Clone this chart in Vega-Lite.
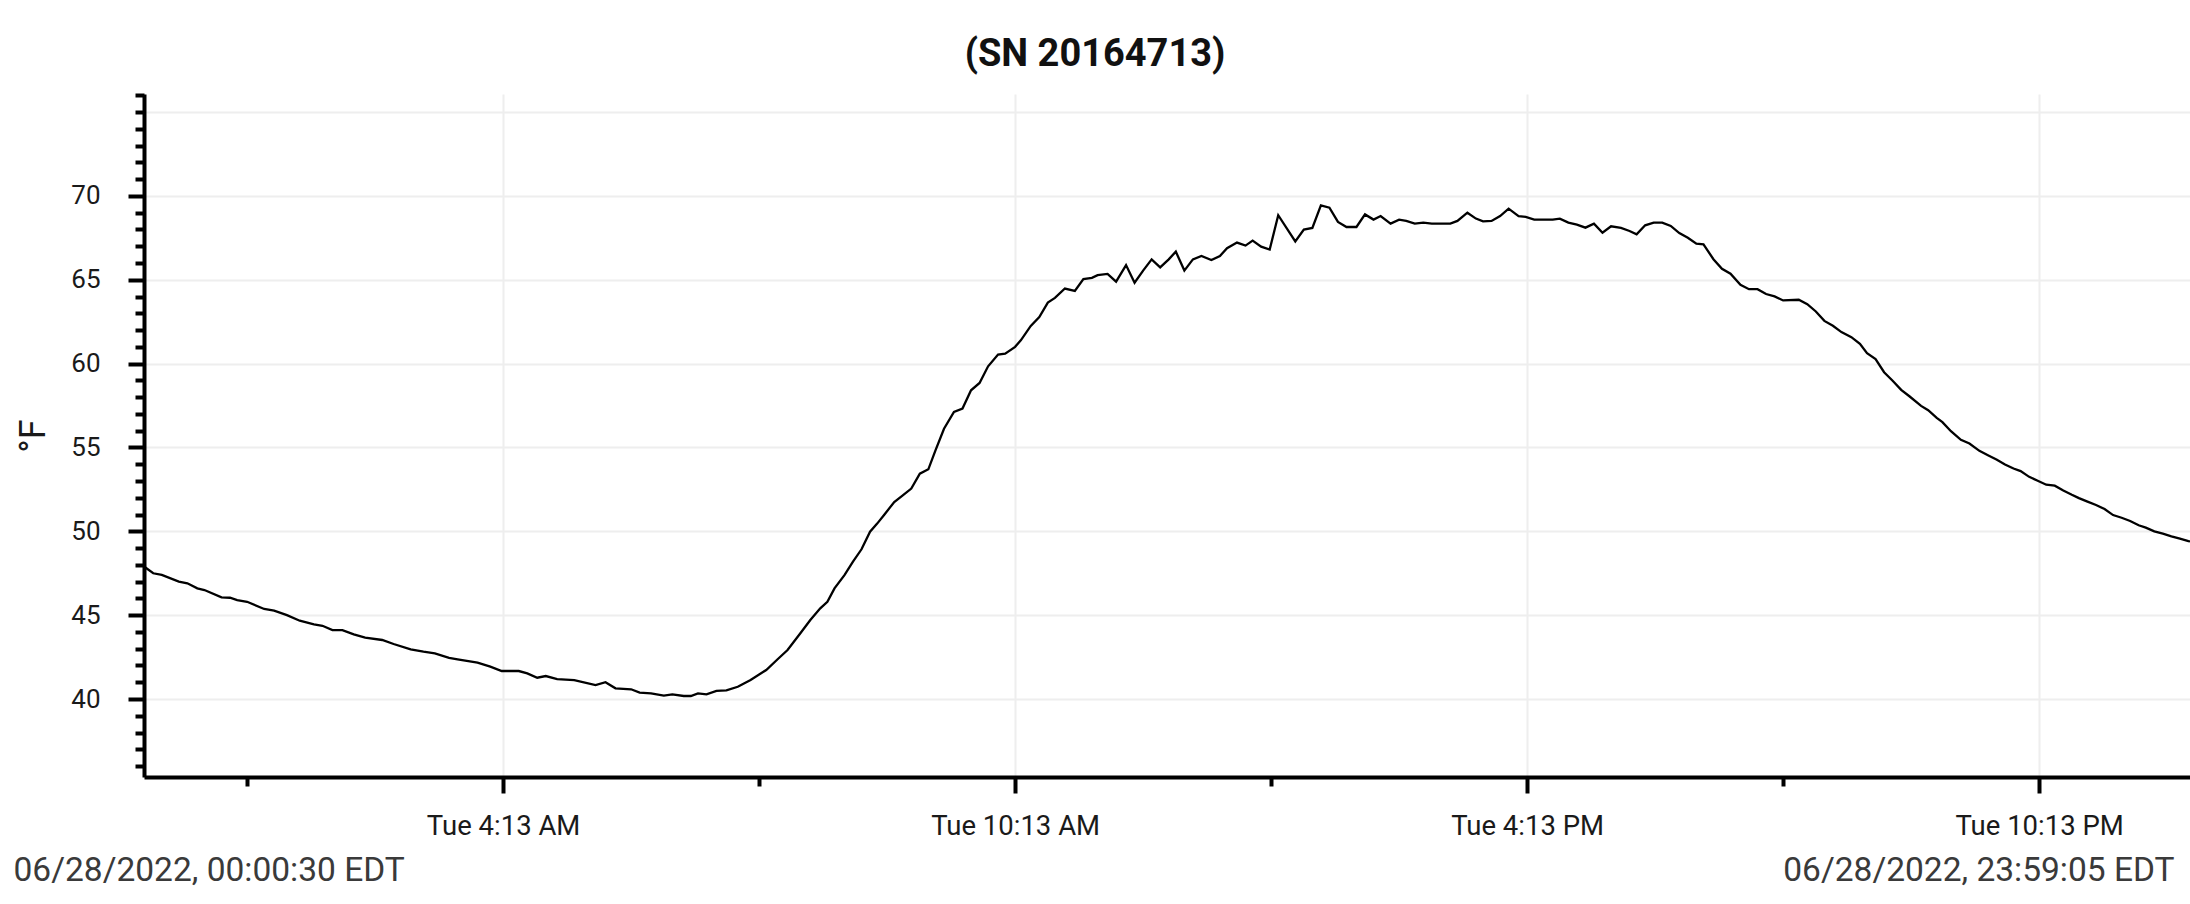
{
  "$schema": "https://vega.github.io/schema/vega-lite/v6.json",
  "width": 2046,
  "height": 683,
  "autosize": {"type": "none"},
  "padding": {"left": 144, "top": 94, "right": 0, "bottom": 127},
  "background": "white",
  "title": {
    "text": "(SN 20164713)",
    "font": "Roboto",
    "fontSize": 38,
    "fontWeight": "bold",
    "color": "#111111",
    "anchor": "middle",
    "dx": -72,
    "offset": 8
  },
  "data": {
    "values": [
      {"t": "2022-06-28T00:00:30Z", "temp": 47.9},
      {"t": "2022-06-28T00:07:00Z", "temp": 47.5},
      {"t": "2022-06-28T00:13:00Z", "temp": 47.4},
      {"t": "2022-06-28T00:25:00Z", "temp": 47.0},
      {"t": "2022-06-28T00:31:00Z", "temp": 46.9},
      {"t": "2022-06-28T00:38:00Z", "temp": 46.6},
      {"t": "2022-06-28T00:43:00Z", "temp": 46.5},
      {"t": "2022-06-28T00:55:00Z", "temp": 46.06},
      {"t": "2022-06-28T01:01:00Z", "temp": 46.04},
      {"t": "2022-06-28T01:06:00Z", "temp": 45.9},
      {"t": "2022-06-28T01:13:00Z", "temp": 45.8},
      {"t": "2022-06-28T01:25:00Z", "temp": 45.37},
      {"t": "2022-06-28T01:32:00Z", "temp": 45.27},
      {"t": "2022-06-28T01:41:00Z", "temp": 45.0},
      {"t": "2022-06-28T01:50:00Z", "temp": 44.67},
      {"t": "2022-06-28T02:00:00Z", "temp": 44.45},
      {"t": "2022-06-28T02:06:00Z", "temp": 44.37},
      {"t": "2022-06-28T02:13:00Z", "temp": 44.11},
      {"t": "2022-06-28T02:20:00Z", "temp": 44.11},
      {"t": "2022-06-28T02:28:00Z", "temp": 43.86},
      {"t": "2022-06-28T02:36:00Z", "temp": 43.66},
      {"t": "2022-06-28T02:48:00Z", "temp": 43.52},
      {"t": "2022-06-28T02:56:00Z", "temp": 43.28},
      {"t": "2022-06-28T03:08:00Z", "temp": 42.96},
      {"t": "2022-06-28T03:17:00Z", "temp": 42.82},
      {"t": "2022-06-28T03:25:00Z", "temp": 42.72},
      {"t": "2022-06-28T03:35:00Z", "temp": 42.46},
      {"t": "2022-06-28T03:41:00Z", "temp": 42.37},
      {"t": "2022-06-28T03:55:00Z", "temp": 42.17},
      {"t": "2022-06-28T04:04:00Z", "temp": 41.93},
      {"t": "2022-06-28T04:12:00Z", "temp": 41.67},
      {"t": "2022-06-28T04:24:00Z", "temp": 41.67},
      {"t": "2022-06-28T04:30:00Z", "temp": 41.53},
      {"t": "2022-06-28T04:37:00Z", "temp": 41.27},
      {"t": "2022-06-28T04:43:00Z", "temp": 41.37},
      {"t": "2022-06-28T04:51:00Z", "temp": 41.19},
      {"t": "2022-06-28T05:03:00Z", "temp": 41.13},
      {"t": "2022-06-28T05:18:00Z", "temp": 40.83},
      {"t": "2022-06-28T05:25:00Z", "temp": 41.0},
      {"t": "2022-06-28T05:32:00Z", "temp": 40.64},
      {"t": "2022-06-28T05:43:00Z", "temp": 40.58},
      {"t": "2022-06-28T05:49:00Z", "temp": 40.38},
      {"t": "2022-06-28T05:57:00Z", "temp": 40.34},
      {"t": "2022-06-28T06:06:00Z", "temp": 40.2},
      {"t": "2022-06-28T06:12:00Z", "temp": 40.28},
      {"t": "2022-06-28T06:20:00Z", "temp": 40.18},
      {"t": "2022-06-28T06:25:00Z", "temp": 40.18},
      {"t": "2022-06-28T06:30:00Z", "temp": 40.34},
      {"t": "2022-06-28T06:36:00Z", "temp": 40.28},
      {"t": "2022-06-28T06:43:00Z", "temp": 40.49},
      {"t": "2022-06-28T06:50:00Z", "temp": 40.52},
      {"t": "2022-06-28T06:58:00Z", "temp": 40.73},
      {"t": "2022-06-28T07:07:00Z", "temp": 41.13},
      {"t": "2022-06-28T07:18:00Z", "temp": 41.73},
      {"t": "2022-06-28T07:26:00Z", "temp": 42.37},
      {"t": "2022-06-28T07:33:00Z", "temp": 42.92},
      {"t": "2022-06-28T07:42:00Z", "temp": 43.92},
      {"t": "2022-06-28T07:49:00Z", "temp": 44.71},
      {"t": "2022-06-28T07:56:00Z", "temp": 45.41},
      {"t": "2022-06-28T08:01:00Z", "temp": 45.8},
      {"t": "2022-06-28T08:06:00Z", "temp": 46.6},
      {"t": "2022-06-28T08:13:00Z", "temp": 47.39},
      {"t": "2022-06-28T08:19:00Z", "temp": 48.19},
      {"t": "2022-06-28T08:25:00Z", "temp": 48.93},
      {"t": "2022-06-28T08:31:00Z", "temp": 49.98},
      {"t": "2022-06-28T08:36:00Z", "temp": 50.46},
      {"t": "2022-06-28T08:41:00Z", "temp": 50.99},
      {"t": "2022-06-28T08:48:00Z", "temp": 51.75},
      {"t": "2022-06-28T08:54:00Z", "temp": 52.15},
      {"t": "2022-06-28T09:00:00Z", "temp": 52.55},
      {"t": "2022-06-28T09:06:00Z", "temp": 53.44},
      {"t": "2022-06-28T09:12:00Z", "temp": 53.7},
      {"t": "2022-06-28T09:17:00Z", "temp": 54.83},
      {"t": "2022-06-28T09:23:00Z", "temp": 56.12},
      {"t": "2022-06-28T09:30:00Z", "temp": 57.12},
      {"t": "2022-06-28T09:36:00Z", "temp": 57.32},
      {"t": "2022-06-28T09:42:00Z", "temp": 58.41},
      {"t": "2022-06-28T09:48:00Z", "temp": 58.85},
      {"t": "2022-06-28T09:54:00Z", "temp": 59.84},
      {"t": "2022-06-28T10:01:00Z", "temp": 60.54},
      {"t": "2022-06-28T10:06:00Z", "temp": 60.6},
      {"t": "2022-06-28T10:13:00Z", "temp": 61.0},
      {"t": "2022-06-28T10:17:00Z", "temp": 61.39},
      {"t": "2022-06-28T10:24:00Z", "temp": 62.25},
      {"t": "2022-06-28T10:30:00Z", "temp": 62.78},
      {"t": "2022-06-28T10:36:00Z", "temp": 63.64},
      {"t": "2022-06-28T10:41:00Z", "temp": 63.92},
      {"t": "2022-06-28T10:48:00Z", "temp": 64.48},
      {"t": "2022-06-28T10:55:00Z", "temp": 64.34},
      {"t": "2022-06-28T11:01:00Z", "temp": 65.04},
      {"t": "2022-06-28T11:07:00Z", "temp": 65.12},
      {"t": "2022-06-28T11:11:00Z", "temp": 65.28},
      {"t": "2022-06-28T11:18:00Z", "temp": 65.35},
      {"t": "2022-06-28T11:24:00Z", "temp": 64.89},
      {"t": "2022-06-28T11:31:00Z", "temp": 65.88},
      {"t": "2022-06-28T11:37:00Z", "temp": 64.83},
      {"t": "2022-06-28T11:43:00Z", "temp": 65.55},
      {"t": "2022-06-28T11:49:00Z", "temp": 66.22},
      {"t": "2022-06-28T11:55:00Z", "temp": 65.74},
      {"t": "2022-06-28T12:01:00Z", "temp": 66.22},
      {"t": "2022-06-28T12:06:00Z", "temp": 66.68},
      {"t": "2022-06-28T12:12:00Z", "temp": 65.55},
      {"t": "2022-06-28T12:18:00Z", "temp": 66.22},
      {"t": "2022-06-28T12:24:00Z", "temp": 66.42},
      {"t": "2022-06-28T12:31:00Z", "temp": 66.18},
      {"t": "2022-06-28T12:37:00Z", "temp": 66.42},
      {"t": "2022-06-28T12:42:00Z", "temp": 66.88},
      {"t": "2022-06-28T12:49:00Z", "temp": 67.22},
      {"t": "2022-06-28T12:55:00Z", "temp": 67.04},
      {"t": "2022-06-28T13:00:00Z", "temp": 67.34},
      {"t": "2022-06-28T13:06:00Z", "temp": 66.98},
      {"t": "2022-06-28T13:12:00Z", "temp": 66.8},
      {"t": "2022-06-28T13:18:00Z", "temp": 68.85},
      {"t": "2022-06-28T13:30:00Z", "temp": 67.29},
      {"t": "2022-06-28T13:36:00Z", "temp": 67.99},
      {"t": "2022-06-28T13:42:00Z", "temp": 68.09},
      {"t": "2022-06-28T13:48:00Z", "temp": 69.44},
      {"t": "2022-06-28T13:54:00Z", "temp": 69.3},
      {"t": "2022-06-28T14:00:00Z", "temp": 68.45},
      {"t": "2022-06-28T14:06:00Z", "temp": 68.15},
      {"t": "2022-06-28T14:13:00Z", "temp": 68.15},
      {"t": "2022-06-28T14:19:00Z", "temp": 68.9},
      {"t": "2022-06-28T14:25:00Z", "temp": 68.59},
      {"t": "2022-06-28T14:30:00Z", "temp": 68.8},
      {"t": "2022-06-28T14:37:00Z", "temp": 68.35},
      {"t": "2022-06-28T14:43:00Z", "temp": 68.59},
      {"t": "2022-06-28T14:48:00Z", "temp": 68.51},
      {"t": "2022-06-28T14:54:00Z", "temp": 68.35},
      {"t": "2022-06-28T15:00:00Z", "temp": 68.41},
      {"t": "2022-06-28T15:06:00Z", "temp": 68.35},
      {"t": "2022-06-28T15:19:00Z", "temp": 68.35},
      {"t": "2022-06-28T15:24:00Z", "temp": 68.51},
      {"t": "2022-06-28T15:31:00Z", "temp": 69.0},
      {"t": "2022-06-28T15:37:00Z", "temp": 68.65},
      {"t": "2022-06-28T15:42:00Z", "temp": 68.49},
      {"t": "2022-06-28T15:48:00Z", "temp": 68.51},
      {"t": "2022-06-28T15:54:00Z", "temp": 68.8},
      {"t": "2022-06-28T16:00:00Z", "temp": 69.24},
      {"t": "2022-06-28T16:07:00Z", "temp": 68.8},
      {"t": "2022-06-28T16:12:00Z", "temp": 68.75},
      {"t": "2022-06-28T16:18:00Z", "temp": 68.59},
      {"t": "2022-06-28T16:31:00Z", "temp": 68.59},
      {"t": "2022-06-28T16:36:00Z", "temp": 68.65},
      {"t": "2022-06-28T16:42:00Z", "temp": 68.41},
      {"t": "2022-06-28T16:48:00Z", "temp": 68.29},
      {"t": "2022-06-28T16:54:00Z", "temp": 68.11},
      {"t": "2022-06-28T17:00:00Z", "temp": 68.35},
      {"t": "2022-06-28T17:06:00Z", "temp": 67.81},
      {"t": "2022-06-28T17:12:00Z", "temp": 68.19},
      {"t": "2022-06-28T17:19:00Z", "temp": 68.09},
      {"t": "2022-06-28T17:25:00Z", "temp": 67.91},
      {"t": "2022-06-28T17:30:00Z", "temp": 67.71},
      {"t": "2022-06-28T17:36:00Z", "temp": 68.25},
      {"t": "2022-06-28T17:42:00Z", "temp": 68.41},
      {"t": "2022-06-28T17:48:00Z", "temp": 68.41},
      {"t": "2022-06-28T17:54:00Z", "temp": 68.21},
      {"t": "2022-06-28T18:00:00Z", "temp": 67.79},
      {"t": "2022-06-28T18:06:00Z", "temp": 67.51},
      {"t": "2022-06-28T18:12:00Z", "temp": 67.15},
      {"t": "2022-06-28T18:17:00Z", "temp": 67.11},
      {"t": "2022-06-28T18:24:00Z", "temp": 66.23},
      {"t": "2022-06-28T18:30:00Z", "temp": 65.66},
      {"t": "2022-06-28T18:36:00Z", "temp": 65.36},
      {"t": "2022-06-28T18:43:00Z", "temp": 64.7},
      {"t": "2022-06-28T18:49:00Z", "temp": 64.44},
      {"t": "2022-06-28T18:55:00Z", "temp": 64.44},
      {"t": "2022-06-28T19:01:00Z", "temp": 64.15},
      {"t": "2022-06-28T19:07:00Z", "temp": 64.01},
      {"t": "2022-06-28T19:13:00Z", "temp": 63.77},
      {"t": "2022-06-28T19:24:00Z", "temp": 63.81},
      {"t": "2022-06-28T19:30:00Z", "temp": 63.55},
      {"t": "2022-06-28T19:36:00Z", "temp": 63.11},
      {"t": "2022-06-28T19:42:00Z", "temp": 62.55},
      {"t": "2022-06-28T19:48:00Z", "temp": 62.26},
      {"t": "2022-06-28T19:54:00Z", "temp": 61.88},
      {"t": "2022-06-28T20:01:00Z", "temp": 61.58},
      {"t": "2022-06-28T20:07:00Z", "temp": 61.18},
      {"t": "2022-06-28T20:12:00Z", "temp": 60.63},
      {"t": "2022-06-28T20:18:00Z", "temp": 60.27},
      {"t": "2022-06-28T20:24:00Z", "temp": 59.49},
      {"t": "2022-06-28T20:30:00Z", "temp": 58.98},
      {"t": "2022-06-28T20:36:00Z", "temp": 58.44},
      {"t": "2022-06-28T20:42:00Z", "temp": 58.04},
      {"t": "2022-06-28T20:50:00Z", "temp": 57.48},
      {"t": "2022-06-28T20:55:00Z", "temp": 57.22},
      {"t": "2022-06-28T21:01:00Z", "temp": 56.77},
      {"t": "2022-06-28T21:05:00Z", "temp": 56.51},
      {"t": "2022-06-28T21:11:00Z", "temp": 55.97},
      {"t": "2022-06-28T21:18:00Z", "temp": 55.46},
      {"t": "2022-06-28T21:24:00Z", "temp": 55.24},
      {"t": "2022-06-28T21:31:00Z", "temp": 54.8},
      {"t": "2022-06-28T21:37:00Z", "temp": 54.54},
      {"t": "2022-06-28T21:43:00Z", "temp": 54.29},
      {"t": "2022-06-28T21:49:00Z", "temp": 53.99},
      {"t": "2022-06-28T21:55:00Z", "temp": 53.75},
      {"t": "2022-06-28T22:00:00Z", "temp": 53.59},
      {"t": "2022-06-28T22:06:00Z", "temp": 53.25},
      {"t": "2022-06-28T22:12:00Z", "temp": 53.02},
      {"t": "2022-06-28T22:18:00Z", "temp": 52.78},
      {"t": "2022-06-28T22:24:00Z", "temp": 52.72},
      {"t": "2022-06-28T22:30:00Z", "temp": 52.44},
      {"t": "2022-06-28T22:36:00Z", "temp": 52.18},
      {"t": "2022-06-28T22:41:00Z", "temp": 51.98},
      {"t": "2022-06-28T22:47:00Z", "temp": 51.77},
      {"t": "2022-06-28T22:53:00Z", "temp": 51.57},
      {"t": "2022-06-28T22:59:00Z", "temp": 51.33},
      {"t": "2022-06-28T23:05:00Z", "temp": 50.97},
      {"t": "2022-06-28T23:11:00Z", "temp": 50.81},
      {"t": "2022-06-28T23:17:00Z", "temp": 50.62},
      {"t": "2022-06-28T23:23:00Z", "temp": 50.36},
      {"t": "2022-06-28T23:28:00Z", "temp": 50.22},
      {"t": "2022-06-28T23:34:00Z", "temp": 50.0},
      {"t": "2022-06-28T23:40:00Z", "temp": 49.86},
      {"t": "2022-06-28T23:46:00Z", "temp": 49.7},
      {"t": "2022-06-28T23:52:00Z", "temp": 49.56},
      {"t": "2022-06-28T23:58:00Z", "temp": 49.42},
      {"t": "2022-06-28T23:59:05Z", "temp": 49.4}
    ]
  },
  "mark": {"type": "line", "color": "#000000", "strokeWidth": 2.3},
  "encoding": {
    "x": {
      "field": "t",
      "type": "temporal",
      "scale": {"type": "utc", "nice": false},
      "axis": {
        "title": null,
        "values": [
          {"year": 2022, "month": 6, "date": 28, "hours": 0, "minutes": 0, "seconds": 30, "utc": true},
          {"year": 2022, "month": 6, "date": 28, "hours": 1, "minutes": 13, "utc": true},
          {"year": 2022, "month": 6, "date": 28, "hours": 4, "minutes": 13, "utc": true},
          {"year": 2022, "month": 6, "date": 28, "hours": 7, "minutes": 13, "utc": true},
          {"year": 2022, "month": 6, "date": 28, "hours": 10, "minutes": 13, "utc": true},
          {"year": 2022, "month": 6, "date": 28, "hours": 13, "minutes": 13, "utc": true},
          {"year": 2022, "month": 6, "date": 28, "hours": 16, "minutes": 13, "utc": true},
          {"year": 2022, "month": 6, "date": 28, "hours": 19, "minutes": 13, "utc": true},
          {"year": 2022, "month": 6, "date": 28, "hours": 22, "minutes": 13, "utc": true},
          {"year": 2022, "month": 6, "date": 28, "hours": 23, "minutes": 59, "seconds": 5, "utc": true}
        ],
        "labelExpr": "utchours(datum.value) == 0 || utchours(datum.value) == 23 ? utcFormat(datum.value, '%m/%d/%Y, %H:%M:%S') + ' EDT' : (utchours(datum.value) % 6 == 1 ? '' : utcFormat(datum.value, '%a %-I:%M %p'))",
        "labelOverlap": false,
        "labelFlush": false,
        "labelBound": false,
        "labelLimit": 0,
        "labelFont": "Roboto",
        "labelFontSize": {"condition": {"test": "utchours(datum.value) == 0 || utchours(datum.value) == 23", "value": 33.5}, "value": 27.5},
        "labelColor": {"condition": {"test": "utchours(datum.value) == 0 || utchours(datum.value) == 23", "value": "#3a3a3a"}, "value": "#1a1a1a"},
        "labelAlign": {"condition": [{"test": "utchours(datum.value) == 0", "value": "left"}, {"test": "utchours(datum.value) == 23", "value": "right"}], "value": "center"},
        "labelOffset": {"condition": [{"test": "utchours(datum.value) == 0", "value": -131}, {"test": "utchours(datum.value) == 23", "value": -16}], "value": 0},
        "labelPadding": {"condition": {"test": "utchours(datum.value) == 0 || utchours(datum.value) == 23", "value": 61}, "value": 19},
        "tickSize": {"condition": {"test": "utchours(datum.value) % 6 == 1", "value": 9}, "value": 16},
        "tickOpacity": {"condition": {"test": "utchours(datum.value) == 0 || utchours(datum.value) == 23", "value": 0}, "value": 1},
        "tickWidth": 4,
        "tickColor": "#000000",
        "domainColor": "#000000",
        "domainWidth": 4,
        "grid": true,
        "gridColor": "#eeeeee",
        "gridWidth": 2,
        "gridOpacity": {"condition": {"test": "utchours(datum.value) % 6 == 4", "value": 1}, "value": 0}
      }
    },
    "y": {
      "field": "temp",
      "type": "quantitative",
      "scale": {"domain": [35.35, 76.08], "nice": false, "zero": false},
      "axis": {
        "title": "°F",
        "titleFont": "Roboto",
        "titleFontSize": 36,
        "titleFontWeight": "normal",
        "titleColor": "#1a1a1a",
        "titlePadding": 18,
        "values": [36, 37, 38, 39, 40, 41, 42, 43, 44, 45, 46, 47, 48, 49, 50, 51, 52, 53, 54, 55, 56, 57, 58, 59, 60, 61, 62, 63, 64, 65, 66, 67, 68, 69, 70, 71, 72, 73, 74, 75, 76],
        "labelExpr": "datum.value % 5 == 0 && datum.value <= 70 ? datum.label : ''",
        "labelFont": "Roboto",
        "labelFontSize": 26,
        "labelColor": "#1a1a1a",
        "labelPadding": 28,
        "labelOverlap": false,
        "tickSize": {"condition": {"test": "datum.value % 5 == 0 && datum.value <= 70", "value": 16}, "value": 9},
        "tickWidth": 4,
        "tickColor": "#000000",
        "domainColor": "#000000",
        "domainWidth": 4,
        "grid": true,
        "gridColor": "#eeeeee",
        "gridWidth": 2,
        "gridOpacity": {"condition": {"test": "datum.value % 5 == 0", "value": 1}, "value": 0}
      }
    }
  },
  "config": {
    "view": {"stroke": null},
    "font": "Roboto"
  }
}
